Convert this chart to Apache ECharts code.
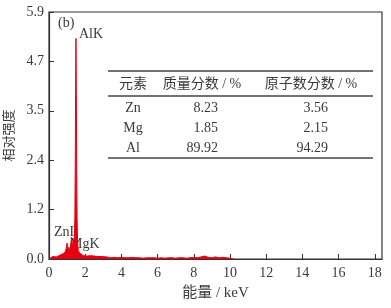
<!DOCTYPE html>
<html><head><meta charset="utf-8">
<script src="https://cdn.jsdelivr.net/npm/echarts@6/dist/echarts.min.js"></script>
<style>html,body{margin:0;padding:0;background:#fff}#c{width:391px;height:308px}</style>
</head><body><div id="c"></div>
<script>
// Spectrum (energy in keV, relative intensity)
const energy = [0.0,0.1,0.2,0.3,0.4,0.5,0.6,0.7,0.8,0.85,0.9,0.95,1.0,1.02,1.05,1.1,1.15,1.2,1.25,1.28,1.32,1.36,1.40,1.43,1.45,1.47,1.49,1.51,1.53,1.55,1.58,1.62,1.7,1.8,1.9,2.0,2.1,2.2,2.3,2.4,2.5,2.6,2.7,2.8,2.9,3.0,3.2,3.4,3.6,3.8,4.0,4.2,4.4,4.6,4.8,5.0,5.2,5.4,5.6,5.8,6.0,6.2,6.4,6.6,6.8,7.0,7.2,7.4,7.6,7.8,8.0,8.2,8.4,8.6,8.8,9.0,9.2,9.4,9.6,9.8,10.0,10.2];
const intensity = [0.00,0.03,0.06,0.08,0.05,0.07,0.09,0.11,0.13,0.10,0.18,0.25,0.38,0.30,0.22,0.28,0.20,0.35,0.52,0.40,0.28,0.32,0.50,1.00,2.20,3.90,5.27,4.00,2.20,1.00,0.40,0.20,0.14,0.10,0.08,0.09,0.07,0.09,0.08,0.06,0.07,0.08,0.06,0.05,0.06,0.04,0.05,0.03,0.04,0.03,0.04,0.03,0.03,0.04,0.03,0.03,0.02,0.03,0.03,0.03,0.02,0.03,0.02,0.03,0.03,0.02,0.03,0.03,0.02,0.03,0.04,0.03,0.05,0.07,0.04,0.03,0.05,0.03,0.04,0.03,0.02,0.00];
const peakLabels = ['AlK','ZnL','MgK'];
const xTicks = [0,2,4,6,8,10,12,14,16,18];
const yTickLabels = ['0.0','1.2','2.4','3.5','4.7','5.9'];
// Table
const tableHeader = ['元素','质量分数 / %','原子数分数 / %'];
const elements = ['Zn','Mg','Al'];
const massFrac = ['8.23','1.85','89.92'];
const atomFrac = ['3.56','2.15','94.29'];

const serif = "'Liberation Serif','Noto Sans CJK SC',serif";
const txtColor = '#3a3a3a';
const chart = echarts.init(document.getElementById('c'));

const g = [];
[71, 96, 158].forEach(y => g.push({type:'line', shape:{x1:108,y1:y,x2:373,y2:y}, style:{stroke:'#444', lineWidth:1.5}}));
const hx = [133, 202, 311];
tableHeader.forEach((t,i) => g.push({type:'text', x:hx[i], y:84, style:{text:t, font:'14px '+serif, fill:txtColor, align:'center', verticalAlign:'middle'}}));
const rowY = [108,128,148];
elements.forEach((t,i) => {
  g.push({type:'text', x:133, y:rowY[i], style:{text:t, font:'14px '+serif, fill:txtColor, align:'center', verticalAlign:'middle'}});
  g.push({type:'text', x:218, y:rowY[i], style:{text:massFrac[i], font:'14px '+serif, fill:txtColor, align:'right', verticalAlign:'middle'}});
  g.push({type:'text', x:328, y:rowY[i], style:{text:atomFrac[i], font:'14px '+serif, fill:txtColor, align:'right', verticalAlign:'middle'}});
});
g.push({type:'text', x:58, y:23, style:{text:'(b)', font:'14px '+serif, fill:txtColor, verticalAlign:'middle'}});
g.push({type:'text', x:79, y:34, style:{text:peakLabels[0], font:'14px '+serif, fill:txtColor, verticalAlign:'middle'}});
g.push({type:'text', x:54, y:232, style:{text:peakLabels[1], font:'14px '+serif, fill:txtColor, verticalAlign:'middle'}});
g.push({type:'text', x:70, y:244, style:{text:peakLabels[2], font:'14px '+serif, fill:txtColor, verticalAlign:'middle'}});

chart.setOption({
  animation:false,
  grid:{left:49,right:9,top:12,bottom:49,containLabel:false,outerBoundsMode:'none',show:true,borderColor:'#333',borderWidth:1.2,backgroundColor:'transparent'},
  xAxis:{type:'value',min:0,max:18.4,interval:2,
    name:'能量 / keV',nameLocation:'middle',nameGap:27,
    nameTextStyle:{fontFamily:serif,fontSize:15,color:txtColor},
    axisLine:{lineStyle:{color:'#333',width:1.2}},
    axisTick:{inside:true,length:5,lineStyle:{color:'#333'}},
    axisLabel:{showMaxLabel:false,fontFamily:serif,fontSize:14,color:txtColor,margin:7,
      formatter:v=>xTicks.includes(v)?String(v):''},
    splitLine:{show:false}},
  yAxis:{type:'value',min:0,max:5.9,interval:1.18,
    name:'相对强度',nameLocation:'middle',nameGap:29,
    nameTextStyle:{fontFamily:serif,fontSize:13,color:txtColor},
    axisLine:{lineStyle:{color:'#333',width:1.2}},
    axisTick:{inside:true,length:5,lineStyle:{color:'#333'}},
    axisLabel:{fontFamily:serif,fontSize:14,color:txtColor,margin:5,
      formatter:v=>yTickLabels[Math.round(v/1.18)]},
    splitLine:{show:false}},
  series:[{type:'line',showSymbol:false,
    data:energy.map((e,i)=>[e,intensity[i]]),
    lineStyle:{color:'#e60012',width:1},
    areaStyle:{color:'#e60012',opacity:1}}],
  graphic:g
});
</script></body></html>
